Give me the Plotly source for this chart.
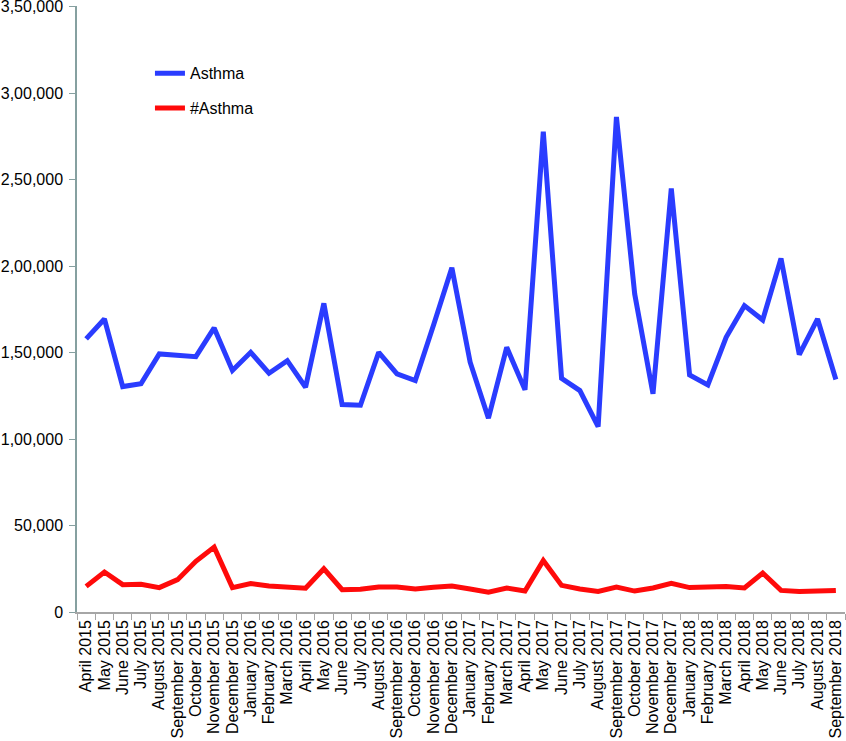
import plotly.graph_objects as go

months = [
    "April 2015", "May 2015", "June 2015", "July 2015", "August 2015", "September 2015",
    "October 2015", "November 2015", "December 2015", "January 2016", "February 2016",
    "March 2016", "April 2016", "May 2016", "June 2016", "July 2016", "August 2016",
    "September 2016", "October 2016", "November 2016", "December 2016", "January 2017",
    "February 2017", "March 2017", "April 2017", "May 2017", "June 2017", "July 2017",
    "August 2017", "September 2017", "October 2017", "November 2017", "December 2017",
    "January 2018", "February 2018", "March 2018", "April 2018", "May 2018", "June 2018",
    "July 2018", "August 2018", "September 2018",
]

asthma = [
    157900, 169400, 130300, 131900, 149200, 148200, 147600, 164200, 139600, 150100,
    138000, 145300, 129900, 178400, 119900, 119500, 150100, 137600, 133800, 165900,
    199000, 144400, 112000, 153000, 128400, 277700, 135100, 128000, 107200, 286200,
    183800, 126100, 244800, 137100, 131300, 158800, 177100, 168800, 204400, 148800,
    169400, 134400,
]

hash_asthma = [
    14800, 23100, 15800, 16000, 14100, 18700, 29300, 37500, 14100, 16400,
    15000, 14100, 13700, 25000, 12900, 13100, 14500, 14500, 13300, 14300,
    15000, 13300, 11500, 13900, 12100, 29800, 15400, 13300, 11900, 14400,
    12100, 13900, 16600, 14100, 14800, 14800, 13900, 22500, 12500, 11900,
    12100, 12500,
]

y_tickvals = [0, 50000, 100000, 150000, 200000, 250000, 300000, 350000]
y_ticktext = ["0", "50,000", "1,00,000", "1,50,000", "2,00,000", "2,50,000", "3,00,000", "3,50,000"]

fig = go.Figure()
fig.add_trace(go.Scatter(
    x=months, y=asthma, mode="lines", name="Asthma",
    line=dict(color="#2a3cff", width=5), legendgroup="a",
))
fig.add_trace(go.Scatter(
    x=months, y=hash_asthma, mode="lines", name="#Asthma",
    line=dict(color="#ff0a0a", width=5), legendgroup="b",
))

fig.update_layout(
    width=846, height=741,
    margin=dict(l=77, r=1, t=6, b=129, autoexpand=False),
    paper_bgcolor="white", plot_bgcolor="white",
    font=dict(family="Liberation Sans, Arial, sans-serif", size=16, color="black"),
    showlegend=True,
    legend=dict(
        x=0.095, y=0.917, xanchor="left", yanchor="top",
        bgcolor="rgba(0,0,0,0)", font=dict(size=16),
        tracegroupgap=11, traceorder="grouped",
    ),
    xaxis=dict(
        type="category", range=[-0.5, len(months) - 0.5], automargin=False,
        tickmode="linear", tick0=0, dtick=1,
        tickangle=-90, tickfont=dict(size=16),
        showline=True, linecolor="#a6a6a6", linewidth=1.5,
        ticks="outside", ticklen=6, tickcolor="#a6a6a6", tickson="boundaries",
        showgrid=False, zeroline=False,
    ),
    yaxis=dict(
        range=[0, 350300], automargin=False,
        tickvals=y_tickvals, ticktext=y_ticktext, tickfont=dict(size=16),
        ticklabeloverflow="allow", ticklabelstandoff=3,
        showline=True, linecolor="#86a0a0", linewidth=1.5,
        ticks="outside", ticklen=6, tickcolor="#86a0a0",
        showgrid=False, zeroline=False,
    ),
)

fig.write_html(
    "out.html",
    config={"displayModeBar": False},
    post_script="document.body.style.margin='0';document.body.style.overflow='hidden';",
)
